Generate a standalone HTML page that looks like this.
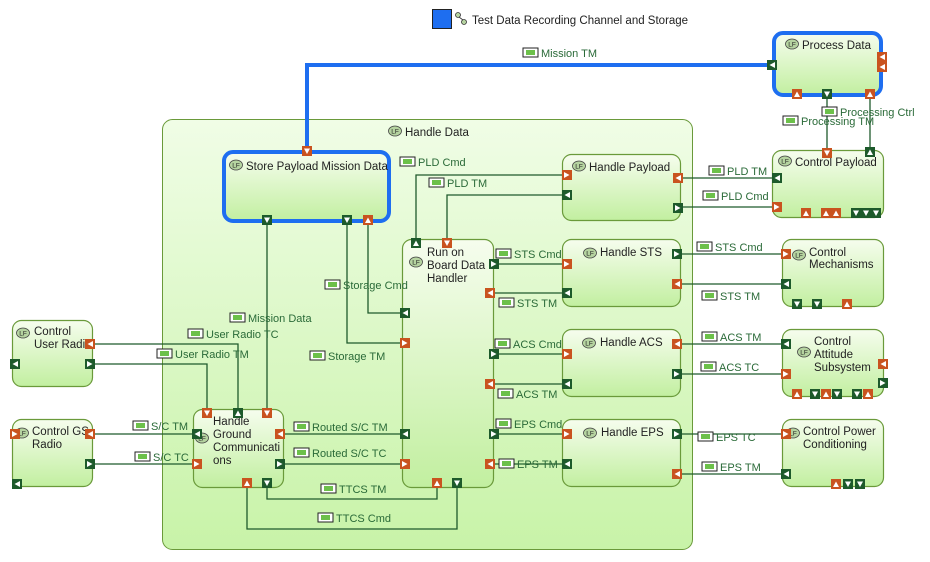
<!DOCTYPE html>
<html><head><meta charset="utf-8"><style>
html,body{margin:0;padding:0;background:#fff;}
svg{display:block;font-family:"Liberation Sans",sans-serif;}
.n{font-size:11.5px;fill:#222;}
.l{font-size:11px;fill:#2a6a38;}
.c{fill:none;stroke:#1f5a2c;stroke-width:1.3;}
</style></head><body>
<svg width="930" height="562" viewBox="0 0 930 562" xmlns="http://www.w3.org/2000/svg">
<defs>
<linearGradient id="g" x1="0" y1="0" x2="0" y2="1"><stop offset="0" stop-color="#f6fdee"/><stop offset="1" stop-color="#c2efa0"/></linearGradient>
<linearGradient id="gc" x1="0" y1="0" x2="0" y2="1"><stop offset="0" stop-color="#f0fde6"/><stop offset="1" stop-color="#c8f3a8"/></linearGradient>
<g id="od"><rect width="10" height="10" fill="#c9531f"/><path d="M2 2.5H8L5 8Z" fill="#fff"/></g>
<g id="ou"><rect width="10" height="10" fill="#c9531f"/><path d="M2 8H8L5 2.5Z" fill="#fff"/></g>
<g id="ol"><rect width="10" height="10" fill="#c9531f"/><path d="M8 2V8L2.5 5Z" fill="#fff"/></g>
<g id="or"><rect width="10" height="10" fill="#c9531f"/><path d="M2 2V8L7.5 5Z" fill="#fff"/></g>
<g id="gd"><rect width="10" height="10" fill="#1d5a2b"/><path d="M2 2.5H8L5 8Z" fill="#fff"/></g>
<g id="gu"><rect width="10" height="10" fill="#1d5a2b"/><path d="M2 8H8L5 2.5Z" fill="#fff"/></g>
<g id="gl"><rect width="10" height="10" fill="#1d5a2b"/><path d="M8 2V8L2.5 5Z" fill="#fff"/></g>
<g id="gr"><rect width="10" height="10" fill="#1d5a2b"/><path d="M2 2V8L7.5 5Z" fill="#fff"/></g>
<g id="ci"><rect x="0" y="0" width="15" height="9" fill="#fff" stroke="#222" stroke-width="1"/><rect x="3" y="2" width="9" height="5" fill="#6cc04a"/></g>
<g id="lf"><ellipse cx="7" cy="5" rx="6.5" ry="5" fill="#b5d3a0" stroke="#444" stroke-width="0.8"/><text x="7" y="7.5" font-size="6.5" text-anchor="middle" fill="#222">LF</text></g>
</defs>

<!-- legend -->
<rect x="432.5" y="9.5" width="19" height="19" fill="#1e6ef0" stroke="#222"/>
<g stroke="#333" fill="#b5d3a0" stroke-width="0.8"><circle cx="458" cy="15" r="2.5"/><circle cx="464" cy="22" r="2.5"/><path d="M459 17L463 20" fill="none"/></g>
<text x="472" y="24" class="n">Test Data Recording Channel and Storage</text>

<!-- container -->
<rect x="162.5" y="119.5" width="530" height="430" rx="10" fill="url(#gc)" stroke="#6a9a3a"/>
<use href="#lf" x="388" y="126"/><text x="405" y="136" class="n">Handle Data</text>

<!-- blue connector -->
<path d="M307 150V65H772" fill="none" stroke="#1e6ef0" stroke-width="4"/>

<!-- connectors -->
<path class="c" d="M267 220V410 M347 220V343H405 M368 220V313H405 M416 243V175H565 M447 243V195H565
M493 264H565 M490 293H565 M493 354H565 M490 384H565 M493 434H565 M490 464H565
M675 178H775 M675 207H775 M675 254H785 M675 284H785 M675 344H785 M675 374H785 M675 434H785 M675 474H785
M827 96V150 M870 96V150
M88 344H238V410 M90 364H207V410 M88 434H196 M90 464H196 M280 434H405 M280 464H405
M267 483V499H437V483 M247 483V529H457V483"/>

<!-- nodes -->
<g stroke="#6a9a3a" stroke-width="1.2" fill="url(#g)">
<rect x="562.5" y="154.5" width="118" height="66" rx="9"/>
<rect x="772.5" y="150.5" width="111" height="67" rx="9"/>
<rect x="402.5" y="239.5" width="91" height="248" rx="9"/>
<rect x="562.5" y="239.5" width="118" height="67" rx="9"/>
<rect x="562.5" y="329.5" width="118" height="67" rx="9"/>
<rect x="562.5" y="419.5" width="118" height="67" rx="9"/>
<rect x="782.5" y="239.5" width="101" height="67" rx="9"/>
<rect x="782.5" y="329.5" width="101" height="67" rx="9"/>
<rect x="782.5" y="419.5" width="101" height="67" rx="9"/>
<rect x="12.5" y="320.5" width="80" height="66" rx="9"/>
<rect x="12.5" y="419.5" width="80" height="67" rx="9"/>
<rect x="193.5" y="409.5" width="90" height="78" rx="9"/>
</g>
<g stroke="#1e6ef0" stroke-width="4" fill="url(#g)">
<rect x="774" y="33" width="107" height="62" rx="9"/>
<rect x="224" y="152" width="165" height="69" rx="9"/>
</g>

<!-- node labels -->
<use href="#lf" x="785" y="39"/><text x="802" y="49" class="n">Process Data</text>
<use href="#lf" x="229" y="160"/><text x="246" y="170" class="n">Store Payload Mission Data</text>
<use href="#lf" x="572" y="161"/><text x="589" y="171" class="n">Handle Payload</text>
<use href="#lf" x="778" y="156"/><text x="795" y="166" class="n">Control Payload</text>
<use href="#lf" x="409" y="257"/><text x="427" y="256" class="n">Run on</text><text x="427" y="269" class="n">Board Data</text><text x="427" y="282" class="n">Handler</text>
<use href="#lf" x="583" y="248"/><text x="600" y="256" class="n">Handle STS</text>
<use href="#lf" x="582" y="338"/><text x="600" y="346" class="n">Handle ACS</text>
<use href="#lf" x="583" y="428"/><text x="601" y="436" class="n">Handle EPS</text>
<use href="#lf" x="792" y="250"/><text x="809" y="256" class="n">Control</text><text x="809" y="268" class="n">Mechanisms</text>
<use href="#lf" x="797" y="347"/><text x="814" y="345" class="n">Control</text><text x="814" y="358" class="n">Attitude</text><text x="814" y="371" class="n">Subsystem</text>
<use href="#lf" x="786" y="428"/><text x="803" y="435" class="n">Control Power</text><text x="803" y="448" class="n">Conditioning</text>
<use href="#lf" x="16" y="328"/><text x="34" y="335" class="n">Control</text><text x="34" y="348" class="n">User Radio</text>
<use href="#lf" x="15" y="428"/><text x="32" y="435" class="n">Control GS</text><text x="32" y="448" class="n">Radio</text>
<use href="#lf" x="195" y="433"/><text x="213" y="425" class="n">Handle</text><text x="213" y="438" class="n">Ground</text><text x="213" y="451" class="n">Communicati</text><text x="213" y="464" class="n">ons</text>

<!-- ports -->
<use href="#od" x="302" y="146"/><use href="#gd" x="262" y="215"/><use href="#gd" x="342" y="215"/><use href="#ou" x="363" y="215"/>
<use href="#gl" x="767" y="60"/><use href="#ol" x="877" y="52"/><use href="#ol" x="877" y="62"/><use href="#ou" x="792" y="89"/><use href="#gd" x="822" y="89"/><use href="#ou" x="865" y="89"/>
<use href="#od" x="822" y="148"/><use href="#gu" x="865" y="147"/><use href="#gl" x="772" y="173"/><use href="#or" x="772" y="202"/>
<use href="#ou" x="801" y="208"/><use href="#ou" x="821" y="208"/><use href="#ou" x="831" y="208"/><use href="#gd" x="851" y="208"/><use href="#gd" x="861" y="208"/><use href="#gd" x="871" y="208"/>
<use href="#or" x="562" y="170"/><use href="#gl" x="562" y="190"/><use href="#ol" x="673" y="173"/><use href="#gr" x="673" y="203"/>
<use href="#gu" x="411" y="238"/><use href="#od" x="442" y="238"/>
<use href="#gr" x="489" y="259"/><use href="#ol" x="485" y="288"/><use href="#gr" x="489" y="349"/><use href="#ol" x="485" y="379"/><use href="#gr" x="489" y="429"/><use href="#ol" x="485" y="459"/>
<use href="#gl" x="400" y="308"/><use href="#or" x="400" y="338"/><use href="#gl" x="400" y="429"/><use href="#or" x="400" y="459"/><use href="#ou" x="432" y="478"/><use href="#gd" x="452" y="478"/>
<use href="#or" x="562" y="259"/><use href="#gl" x="562" y="288"/><use href="#gr" x="672" y="249"/><use href="#ol" x="672" y="279"/>
<use href="#or" x="562" y="349"/><use href="#gl" x="562" y="379"/><use href="#ol" x="672" y="339"/><use href="#gr" x="672" y="369"/>
<use href="#or" x="562" y="429"/><use href="#gl" x="562" y="459"/><use href="#gr" x="672" y="429"/><use href="#ol" x="672" y="469"/>
<use href="#or" x="781" y="249"/><use href="#gl" x="781" y="279"/><use href="#gd" x="792" y="299"/><use href="#gd" x="812" y="299"/><use href="#ou" x="842" y="299"/>
<use href="#gl" x="781" y="339"/><use href="#or" x="781" y="369"/><use href="#ol" x="878" y="359"/><use href="#gr" x="878" y="378"/>
<use href="#ou" x="792" y="389"/><use href="#gd" x="810" y="389"/><use href="#ou" x="821" y="389"/><use href="#gd" x="832" y="389"/><use href="#gd" x="852" y="389"/><use href="#ou" x="863" y="389"/>
<use href="#or" x="781" y="429"/><use href="#gl" x="781" y="469"/><use href="#ou" x="831" y="479"/><use href="#gd" x="843" y="479"/><use href="#gd" x="855" y="479"/>
<use href="#ol" x="85" y="339"/><use href="#gr" x="85" y="359"/><use href="#gl" x="10" y="359"/>
<use href="#ol" x="85" y="429"/><use href="#gr" x="85" y="459"/><use href="#or" x="10" y="429"/><use href="#gl" x="12" y="479"/>
<use href="#od" x="202" y="408"/><use href="#gu" x="233" y="408"/><use href="#od" x="262" y="408"/>
<use href="#gl" x="192" y="429"/><use href="#or" x="192" y="459"/><use href="#ol" x="275" y="429"/><use href="#gr" x="275" y="459"/>
<use href="#ou" x="242" y="478"/><use href="#gd" x="262" y="478"/>

<!-- connector labels -->
<use href="#ci" x="523" y="48"/><text x="541" y="57" class="l">Mission TM</text>
<use href="#ci" x="400" y="157"/><text x="418" y="166" class="l">PLD Cmd</text>
<use href="#ci" x="429" y="178"/><text x="447" y="187" class="l">PLD TM</text>
<use href="#ci" x="325" y="280"/><text x="343" y="289" class="l">Storage Cmd</text>
<use href="#ci" x="230" y="313"/><text x="248" y="322" class="l">Mission Data</text>
<use href="#ci" x="188" y="329"/><text x="206" y="338" class="l">User Radio TC</text>
<use href="#ci" x="157" y="349"/><text x="175" y="358" class="l">User Radio TM</text>
<use href="#ci" x="310" y="351"/><text x="328" y="360" class="l">Storage TM</text>
<use href="#ci" x="133" y="421"/><text x="151" y="430" class="l">S/C TM</text>
<use href="#ci" x="135" y="452"/><text x="153" y="461" class="l">S/C TC</text>
<use href="#ci" x="294" y="422"/><text x="312" y="431" class="l">Routed S/C TM</text>
<use href="#ci" x="294" y="448"/><text x="312" y="457" class="l">Routed S/C TC</text>
<use href="#ci" x="321" y="484"/><text x="339" y="493" class="l">TTCS TM</text>
<use href="#ci" x="318" y="513"/><text x="336" y="522" class="l">TTCS Cmd</text>
<use href="#ci" x="496" y="249"/><text x="514" y="258" class="l">STS Cmd</text>
<use href="#ci" x="499" y="298"/><text x="517" y="307" class="l">STS TM</text>
<use href="#ci" x="495" y="339"/><text x="513" y="348" class="l">ACS Cmd</text>
<use href="#ci" x="498" y="389"/><text x="516" y="398" class="l">ACS TM</text>
<use href="#ci" x="496" y="419"/><text x="514" y="428" class="l">EPS Cmd</text>
<use href="#ci" x="499" y="459"/><text x="517" y="468" class="l">EPS TM</text>
<use href="#ci" x="709" y="166"/><text x="727" y="175" class="l">PLD TM</text>
<use href="#ci" x="703" y="191"/><text x="721" y="200" class="l">PLD Cmd</text>
<use href="#ci" x="697" y="242"/><text x="715" y="251" class="l">STS Cmd</text>
<use href="#ci" x="702" y="291"/><text x="720" y="300" class="l">STS TM</text>
<use href="#ci" x="702" y="332"/><text x="720" y="341" class="l">ACS TM</text>
<use href="#ci" x="701" y="362"/><text x="719" y="371" class="l">ACS TC</text>
<use href="#ci" x="698" y="432"/><text x="716" y="441" class="l">EPS TC</text>
<use href="#ci" x="702" y="462"/><text x="720" y="471" class="l">EPS TM</text>
<use href="#ci" x="822" y="107"/><text x="840" y="116" class="l">Processing Ctrl</text>
<use href="#ci" x="783" y="116"/><text x="801" y="125" class="l">Processing TM</text>
</svg>
</body></html>
